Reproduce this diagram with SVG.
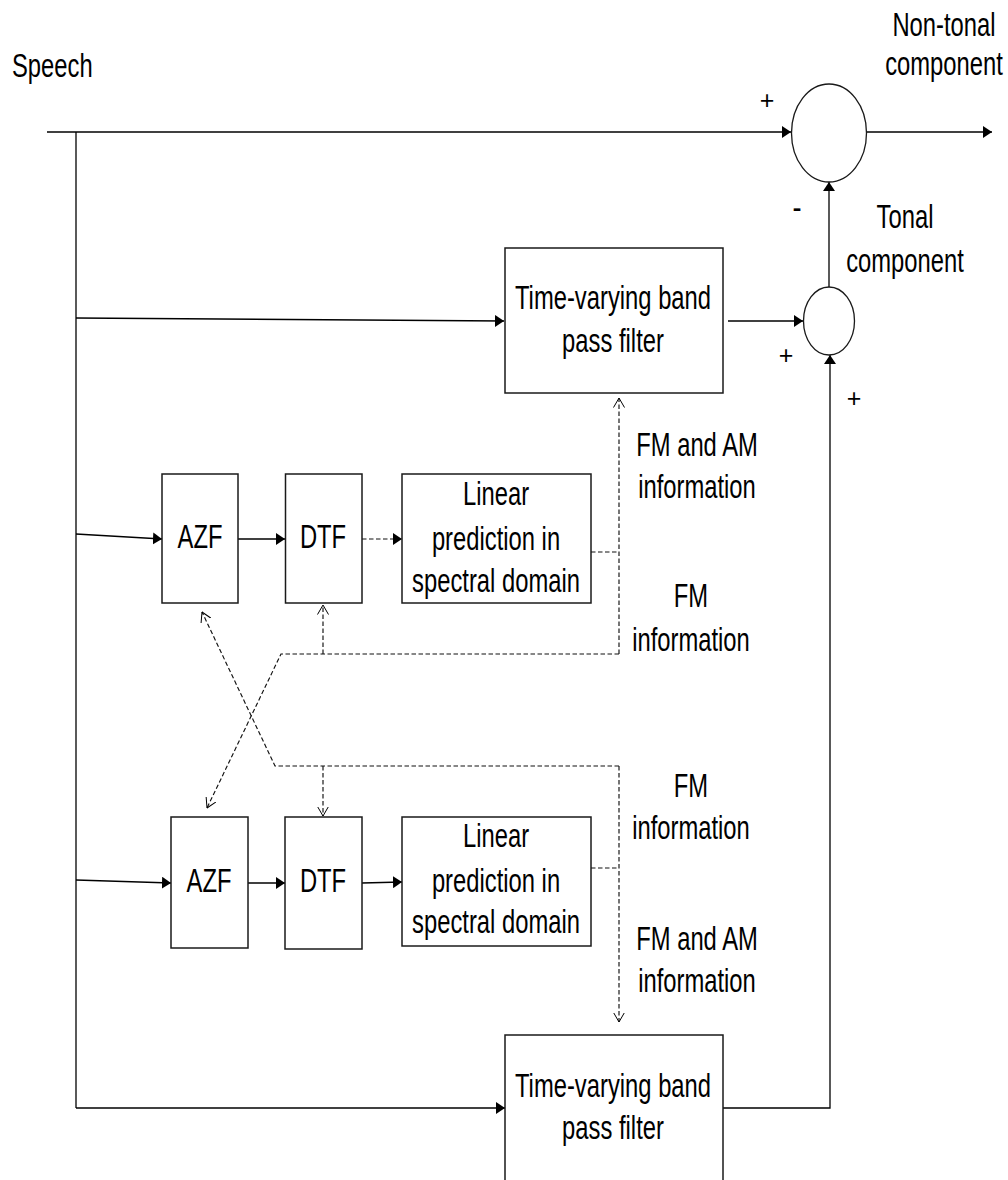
<svg xmlns="http://www.w3.org/2000/svg" width="1008" height="1180" viewBox="0 0 1008 1180">
<style>
.t{font-family:"Liberation Sans",Arial,sans-serif;font-size:34px;fill:#000;text-anchor:middle}
.p{font-family:"Liberation Sans",Arial,sans-serif;font-size:25px;fill:#000;text-anchor:middle}
.box{fill:#fff;stroke:#1a1a1a;stroke-width:1.5}
.sum{fill:#fff;stroke:#1a1a1a;stroke-width:1.3}
.ln{fill:none;stroke:#000;stroke-width:1.3}
.ds{fill:none;stroke:#111;stroke-width:1.15;stroke-dasharray:4.5 2.5}
</style>
<defs>
<marker id="ah" viewBox="0 0 9 12" refX="9" refY="6" markerWidth="9" markerHeight="12" markerUnits="userSpaceOnUse" orient="auto"><path d="M0,0 L9,6 L0,12 z" fill="#000"/></marker>
<marker id="oa" viewBox="0 0 10 12" refX="9.5" refY="6" markerWidth="10" markerHeight="12" markerUnits="userSpaceOnUse" orient="auto"><path d="M0,0.5 L9.5,6 L0,11.5" fill="none" stroke="#000" stroke-width="1"/></marker>
</defs>
<rect width="1008" height="1180" fill="#fff"/>
<g id="connectors">
<path class="ln" d="M47,132 H791" marker-end="url(#ah)"/>
<path class="ln" d="M866,132 H992" marker-end="url(#ah)"/>
<path class="ln" d="M76,132 V1108"/>
<path class="ln" d="M76,1108 H505" marker-end="url(#ah)"/>
<path class="ln" d="M76,318 L504,321" marker-end="url(#ah)"/>
<path class="ln" d="M728,321 H803" marker-end="url(#ah)"/>
<path class="ln" d="M829,287 V182" marker-end="url(#ah)"/>
<path class="ln" d="M723,1108 H830 V355" marker-end="url(#ah)"/>
<path class="ln" d="M76,534 L162,539" marker-end="url(#ah)"/>
<path class="ln" d="M238,539 H285" marker-end="url(#ah)"/>
<path class="ln" d="M76,880 L171,883" marker-end="url(#ah)"/>
<path class="ln" d="M248,883 H285" marker-end="url(#ah)"/>
<path class="ln" d="M362,883 L402,882" marker-end="url(#ah)"/>
<path class="ds" d="M362,539 H402" marker-end="url(#ah)"/>
<path class="ds" d="M591,552 H619"/>
<path class="ds" d="M619,654 V398" marker-end="url(#oa)"/>
<path class="ds" d="M619,654 H281 L207,808" marker-end="url(#oa)"/>
<path class="ds" d="M323,654 V605" marker-end="url(#oa)"/>
<path class="ds" d="M591,868 H619"/>
<path class="ds" d="M619,766 V1022" marker-end="url(#oa)"/>
<path class="ds" d="M619,766 H275 L202,612" marker-end="url(#oa)"/>
<path class="ds" d="M323,766 V816" marker-end="url(#oa)"/>
</g>
<g id="speech"><text class="t" style="text-anchor:start" transform="translate(12,77) scale(0.7,1)">Speech</text></g>
<g id="sum-nontonal">
<ellipse class="sum" cx="829" cy="133" rx="37.5" ry="49"/>
<text class="p" x="767" y="109">+</text>
<text class="t" transform="translate(797,219) scale(0.8,1)">-</text>
</g>
<g id="label-nontonal">
<text class="t" transform="translate(944,36) scale(0.7,1)">Non-tonal</text>
<text class="t" transform="translate(944,75) scale(0.7,1)">component</text>
</g>
<g id="label-tonal">
<text class="t" transform="translate(905,228) scale(0.7,1)">Tonal</text>
<text class="t" transform="translate(905,272) scale(0.7,1)">component</text>
</g>
<g id="sum-tonal">
<ellipse class="sum" cx="829" cy="321" rx="25.5" ry="34"/>
<text class="p" x="786" y="364">+</text>
<text class="p" x="854" y="407">+</text>
</g>
<g id="filter-top">
<rect class="box" x="505" y="248" width="218" height="145"/>
<text class="t" transform="translate(613,309) scale(0.7,1)">Time-varying band</text>
<text class="t" transform="translate(613,352) scale(0.7,1)">pass filter</text>
</g>
<g id="azf-1">
<rect class="box" x="162" y="474" width="76" height="129"/>
<text class="t" transform="translate(200,548) scale(0.7,1)">AZF</text>
</g>
<g id="dtf-1">
<rect class="box" x="285.5" y="474" width="76.5" height="129"/>
<text class="t" transform="translate(323,548) scale(0.7,1)">DTF</text>
</g>
<g id="lp-1">
<rect class="box" x="402" y="474" width="189" height="129"/>
<text class="t" transform="translate(496,505) scale(0.7,1)">Linear</text>
<text class="t" transform="translate(496,550) scale(0.7,1)">prediction in</text>
<text class="t" transform="translate(496,592) scale(0.7,1)">spectral domain</text>
</g>
<g id="label-fmam-1">
<text class="t" transform="translate(697,456) scale(0.7,1)">FM and AM</text>
<text class="t" transform="translate(697,498) scale(0.7,1)">information</text>
</g>
<g id="label-fm-1">
<text class="t" transform="translate(691,607) scale(0.7,1)">FM</text>
<text class="t" transform="translate(691,651) scale(0.7,1)">information</text>
</g>
<g id="label-fm-2">
<text class="t" transform="translate(691,797) scale(0.7,1)">FM</text>
<text class="t" transform="translate(691,839) scale(0.7,1)">information</text>
</g>
<g id="azf-2">
<rect class="box" x="171" y="817" width="77" height="131"/>
<text class="t" transform="translate(209,892) scale(0.7,1)">AZF</text>
</g>
<g id="dtf-2">
<rect class="box" x="285" y="817" width="77" height="132"/>
<text class="t" transform="translate(323,892) scale(0.7,1)">DTF</text>
</g>
<g id="lp-2">
<rect class="box" x="402" y="817" width="189" height="129"/>
<text class="t" transform="translate(496,847) scale(0.7,1)">Linear</text>
<text class="t" transform="translate(496,892) scale(0.7,1)">prediction in</text>
<text class="t" transform="translate(496,933) scale(0.7,1)">spectral domain</text>
</g>
<g id="label-fmam-2">
<text class="t" transform="translate(697,950) scale(0.7,1)">FM and AM</text>
<text class="t" transform="translate(697,992) scale(0.7,1)">information</text>
</g>
<g id="filter-bottom">
<rect class="box" x="505" y="1035" width="218" height="150"/>
<text class="t" transform="translate(613,1097) scale(0.7,1)">Time-varying band</text>
<text class="t" transform="translate(613,1139) scale(0.7,1)">pass filter</text>
</g>
</svg>
